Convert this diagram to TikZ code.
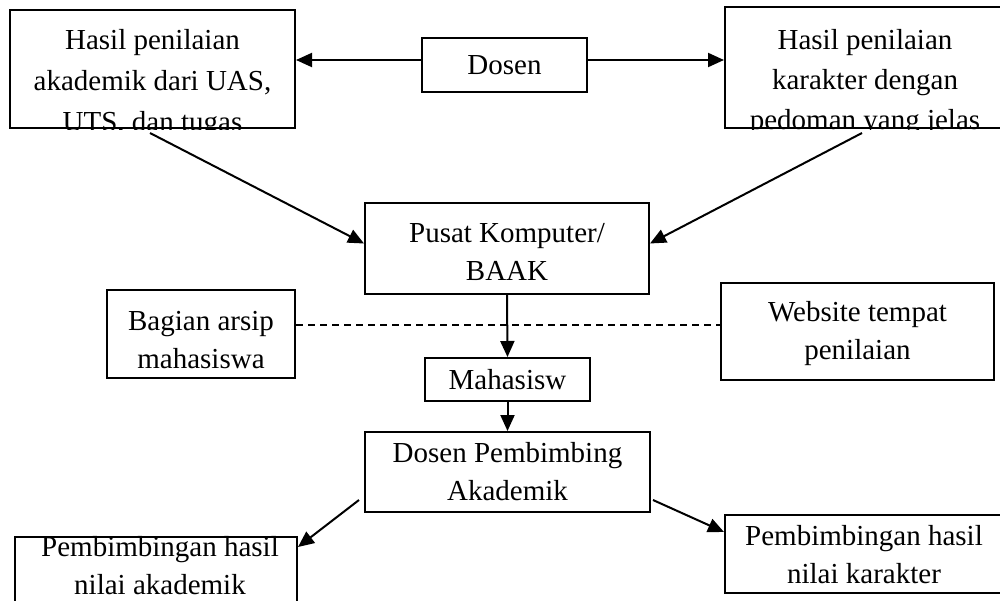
\documentclass[tikz,border=0pt]{standalone}
\usepackage{fontspec}
\setmainfont{Liberation Serif}
\usetikzlibrary{arrows.meta,calc}
\begin{document}
\begin{tikzpicture}[x=1pt,y=-1pt,
  box/.style={draw, line width=2pt, inner sep=0pt, align=center,
    font=\fontsize{29}{38}\selectfont},
  txt/.style={inner sep=0pt, align=center, font=\fontsize{29}{38}\selectfont},
  arr/.style={line width=2pt, -{Triangle[length=16pt,width=14pt]}},
  dsh/.style={line width=1.4pt, dash pattern=on 7pt off 5pt}]
\useasboundingbox (0,0) rectangle (1000,600);
% top boxes
\node[box, minimum width=285pt, minimum height=118pt] (A) at (152.5,69) {};
\begin{scope}
  \clip (A.south west) rectangle (A.north east);
  \node[txt, font=\fontsize{29}{41}\selectfont] (tA) at (152.5,84) {Hasil penilaian\\akademik dari UAS,\\UTS, dan tugas};
\end{scope}
\node[box, minimum width=280pt, minimum height=121pt] (B) at (865,67.5) {};
\begin{scope}
  \clip (B.south west) rectangle (B.north east);
  \node[txt, font=\fontsize{29}{40}\selectfont] (tB) at (865,83) {Hasil penilaian\\karakter dengan\\pedoman yang jelas};
\end{scope}
\node[box, minimum width=165pt, minimum height=54pt] (D) at (504.5,65) {Dosen};
% middle
\node[box, minimum width=284pt, minimum height=91pt] (P) at (507,248.5) {};
\node[txt] (tP) at (507,252) {Pusat Komputer/\\BAAK};
\node[box, minimum width=188pt, minimum height=88pt] (G) at (201,334) {};
\node[txt] (tG) at (201,340) {Bagian arsip\\mahasiswa};
\node[box, minimum width=273pt, minimum height=97pt] (W) at (857.5,331.5) {};
\node[txt] (tW) at (857.5,334) {Website tempat\\penilaian};
\node[box, minimum width=165pt, minimum height=43pt] (M) at (507.5,379.5) {Mahasisw};
\node[box, minimum width=285pt, minimum height=80pt] (DP) at (507.5,472) {Dosen Pembimbing\\Akademik};
% bottom
\node[box, minimum width=282pt, minimum height=100pt] (PA) at (156,587) {};
\node[txt] (tPA) at (160,566) {Pembimbingan hasil\\nilai akademik};
\node[box, minimum width=278pt, minimum height=78pt] (PK) at (864,554) {};
\node[txt] (tPK) at (864,555) {Pembimbingan hasil\\nilai karakter};
% connectors
\draw[arr] ([yshift=5pt]D.west) -- ([yshift=5pt]D.west -| A.east);
\draw[arr] ([yshift=5pt]D.east) -- ([yshift=5pt]D.east -| B.west);
\coordinate (a1) at (150,133);
\coordinate (b1) at (862,133);
\draw[arr] (a1) -- ([yshift=5pt]P.west);
\draw[arr] (b1) -- ([yshift=5pt]P.east);
\draw[dsh] ([yshift=9pt]G.east) -- ([yshift=9pt]G.east -| W.west);
\draw[arr] (P.south) -- (M.north);
\draw[arr] (M.south) -- (DP.north);
\draw[arr] ([xshift=-5pt,yshift=-28pt]DP.west) -- ([yshift=-11pt]PA.north east);
\draw[arr] ([xshift=2pt,yshift=-28pt]DP.east) -- ([yshift=-18pt]PK.north west);
\end{tikzpicture}
\end{document}
